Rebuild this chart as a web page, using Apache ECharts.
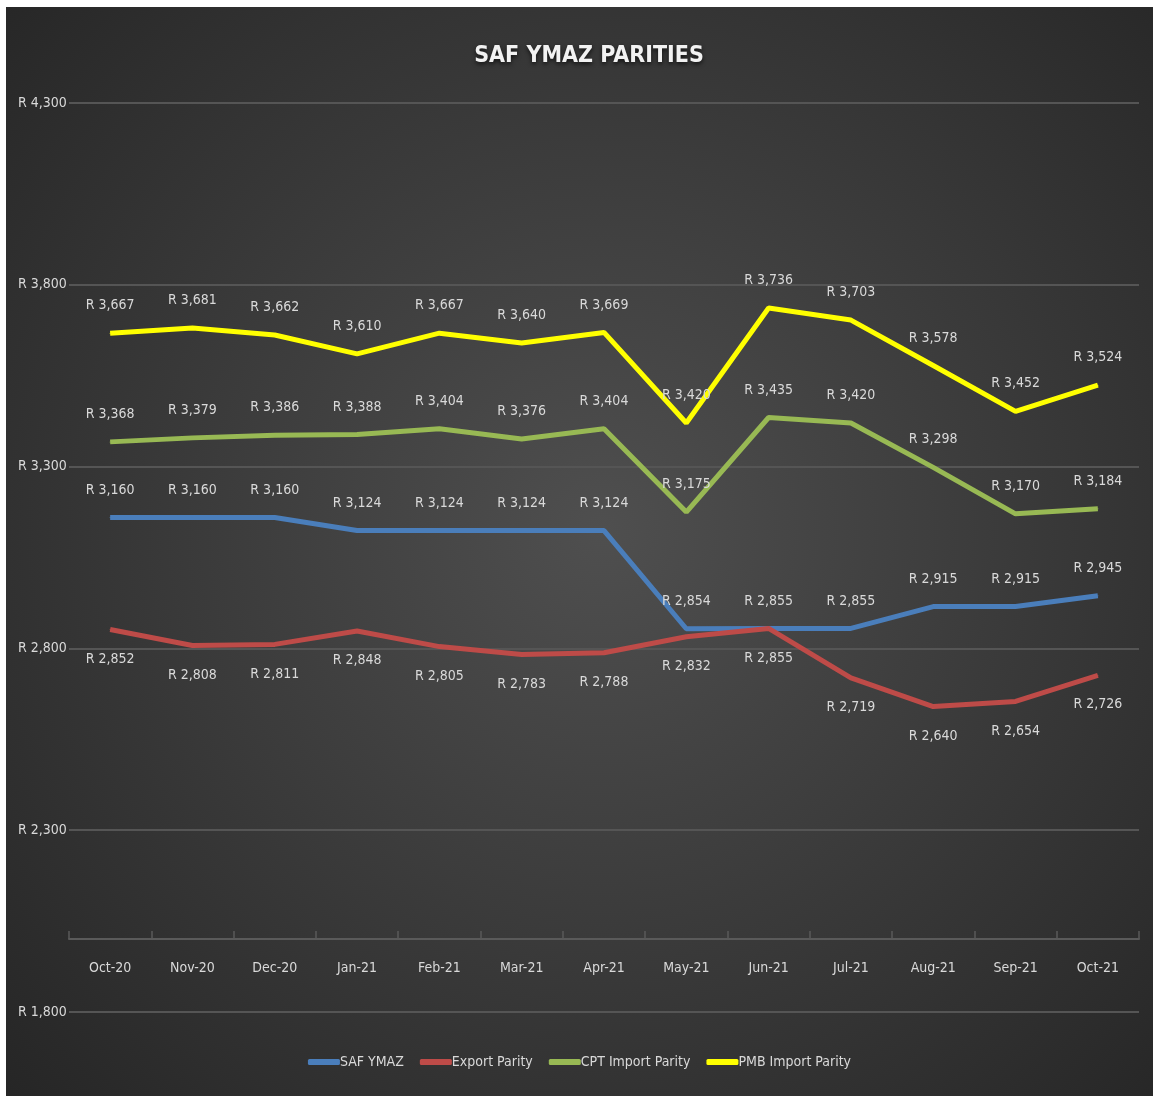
<!DOCTYPE html>
<html><head><meta charset="utf-8">
<script src="https://cdn.jsdelivr.net/npm/echarts@6/dist/echarts.min.js"></script>
<style>
html,body{margin:0;padding:0;background:#ffffff;}
#c{position:absolute;left:6px;top:7px;width:1147px;height:1089px;}
</style></head>
<body><div id="c"></div>
<script>
const categories = ['Oct-20','Nov-20','Dec-20','Jan-21','Feb-21','Mar-21','Apr-21','May-21','Jun-21','Jul-21','Aug-21','Sep-21','Oct-21'];
const safYmaz = [3160,3160,3160,3124,3124,3124,3124,2854,2855,2855,2915,2915,2945];
const exportParity = [2852,2808,2811,2848,2805,2783,2788,2832,2855,2719,2640,2654,2726];
const cptImport = [3368,3379,3386,3388,3404,3376,3404,3175,3435,3420,3298,3170,3184];
const pmbImport = [3667,3681,3662,3610,3667,3640,3669,3420,3736,3703,3578,3452,3524];
const yTicks = {min:1800, max:4300, interval:500, crossAt:2000};

const FONT = "'Liberation Sans Narrow','DejaVu Sans Condensed','Liberation Sans',sans-serif";
const TXT = '#d9d9d9';
const fmt = v => 'R ' + Number(v).toLocaleString('en-US');

function mk(name, data, color, pos, dist){
  return {
    name, type:'line', data, symbol:'circle', symbolSize:1, showSymbol:true, smooth:false,
    lineStyle:{color, width:5},
    itemStyle:{color},
    labelLayout:{hideOverlap:false},
    label:{show:true, position:pos, distance:dist, color:TXT, fontFamily:FONT, fontSize:14,
      formatter:p=>fmt(p.value)},
    z: 3
  };
}

const chart = echarts.init(document.getElementById('c'), null, {renderer:'canvas'});
chart.setOption({
  animation:false,
  backgroundColor:{type:'radial', x:0.52, y:0.48, r:0.75,
    colorStops:[{offset:0,color:'#4f4f4f'},{offset:1,color:'#262626'}]},
  title:{text:'SAF YMAZ PARITIES', left:578, top:33, textAlign:'center',
    textStyle:{color:'#f2f2f2', fontFamily:FONT, fontSize:23, fontWeight:'bold',
      textShadowColor:'rgba(0,0,0,0.7)', textShadowBlur:4, textShadowOffsetY:2}},
  legend:{bottom:22, left:'center', itemWidth:32, itemHeight:6, itemGap:16, icon:'roundRect',
    textStyle:{color:TXT, fontFamily:FONT, fontSize:14, padding:[0,0,0,-5]},
    data:['SAF YMAZ','Export Parity','CPT Import Parity','PMB Import Parity']},
  grid:{left:63, right:14, top:96, bottom:84},
  xAxis:{type:'category', data:categories, boundaryGap:true,
    offset: -73,
    axisLine:{show:true, lineStyle:{color:'#5a5a5a', width:2}},
    axisTick:{show:true, inside:true, length:8, alignWithLabel:false, lineStyle:{color:'#5a5a5a', width:1.5}},
    axisLabel:{color:TXT, fontFamily:FONT, fontSize:14, margin:22}},
  yAxis:{type:'value', min:yTicks.min, max:yTicks.max, interval:yTicks.interval,
    axisLine:{show:false}, axisTick:{show:false},
    splitLine:{lineStyle:{color:'#555555', width:2}},
    axisLabel:{color:TXT, fontFamily:FONT, fontSize:14, align:'left', margin:51, formatter:fmt}},
  series:[
    mk('SAF YMAZ', safYmaz, '#4a7ebb', 'top', 20),
    mk('Export Parity', exportParity, '#be4b48', 'bottom', 22),
    mk('CPT Import Parity', cptImport, '#98b954', 'top', 20),
    mk('PMB Import Parity', pmbImport, '#ffff00', 'top', 20)
  ]
});
</script></body></html>
